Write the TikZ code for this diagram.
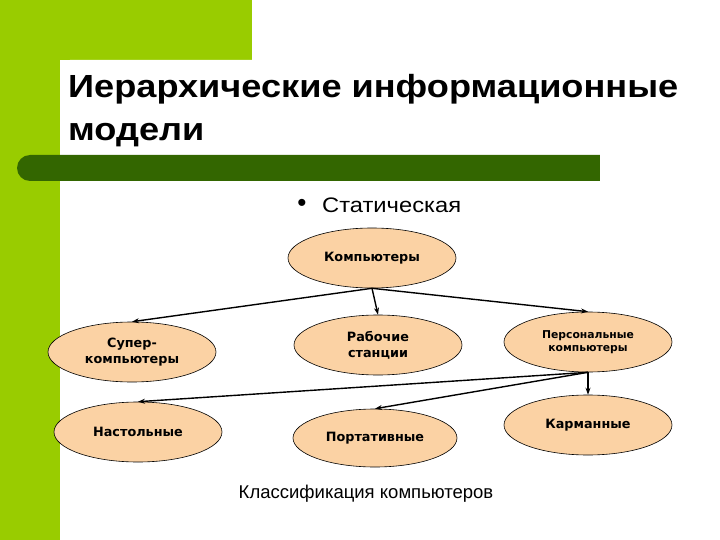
\documentclass[tikz,border=0pt]{standalone}
\usepackage{fontspec}
\setmainfont{Liberation Sans}
\newfontfamily\nodefont{DejaVu Sans}
\newfontfamily\widefont[FakeStretch=1.13]{Liberation Sans}
\definecolor{limegreen}{RGB}{153,204,0}
\definecolor{darkgreen}{RGB}{51,102,0}
\definecolor{peach}{RGB}{251,210,164}
\usetikzlibrary{arrows.meta,shapes.geometric}

\begin{document}
\begin{tikzpicture}[x=1pt, y=-1pt,
  ell/.style={ellipse, draw, fill=peach, line width=0.6pt, minimum width=168pt,
              minimum height=60pt, inner sep=0pt, align=center,
              font=\nodefont\bfseries\fontsize{12.8}{16}\selectfont},
  arr/.style={-{Stealth[length=7pt,width=5pt]}, line width=1.4pt}
]
\useasboundingbox (0,0) rectangle (720,540);
% slide background
\fill[white] (0,0) rectangle (720,540);
\fill[limegreen] (0,0) rectangle (252,60);
\fill[limegreen] (0,0) rectangle (60,540);
\fill[white, rounded corners=10pt] (60,60) rectangle (730,550);
\fill[darkgreen, rounded corners=13pt] (17,155) rectangle (620,181);
\fill[white] (600,150) rectangle (630,186);

% title and text
\node[anchor=base west, inner sep=0pt, align=left,
      font=\widefont\bfseries\fontsize{32}{43}\selectfont] (title) at (68,141)
  {Иерархические информационные\\модели};
\node[anchor=center, inner sep=0pt, font=\fontsize{26}{26}\selectfont] (dot) at (302,205) {•};
\node[anchor=base west, inner sep=0pt, font=\widefont\fontsize{21}{25}\selectfont] (stat) at (322,212) {Статическая};

% tree
\node[ell] (comp) at (372,258) {Компьютеры};
\node[ell] (super) at (132,352) {Супер-\\компьютеры};
\node[ell] (rab) at (378,345) {Рабочие\\станции};
\node[ell, font=\nodefont\bfseries\fontsize{10.8}{13}\selectfont] (pers) at (588,342) {Персональные\\компьютеры};
\node[ell] (nast) at (138,432) {Настольные};
\node[ell, minimum width=164pt, minimum height=58pt] (port) at (375,438) {Портативные};
\node[ell] (karm) at (588,425) {Карманные};

\draw[arr] (comp.south) -- (super.north);
\draw[arr] (comp.south) -- (rab.north);
\draw[arr] (comp.south) -- (pers.north);
\draw[arr] (pers.south) -- (nast.north);
\draw[arr] (pers.south) -- (port.north);
\draw[arr] (pers.south) -- (karm.north);

\node[anchor=base, inner sep=0pt, font=\fontsize{18.5}{22}\selectfont] (caption) at (366,498)
  {Классификация компьютеров};
\end{tikzpicture}
\end{document}
